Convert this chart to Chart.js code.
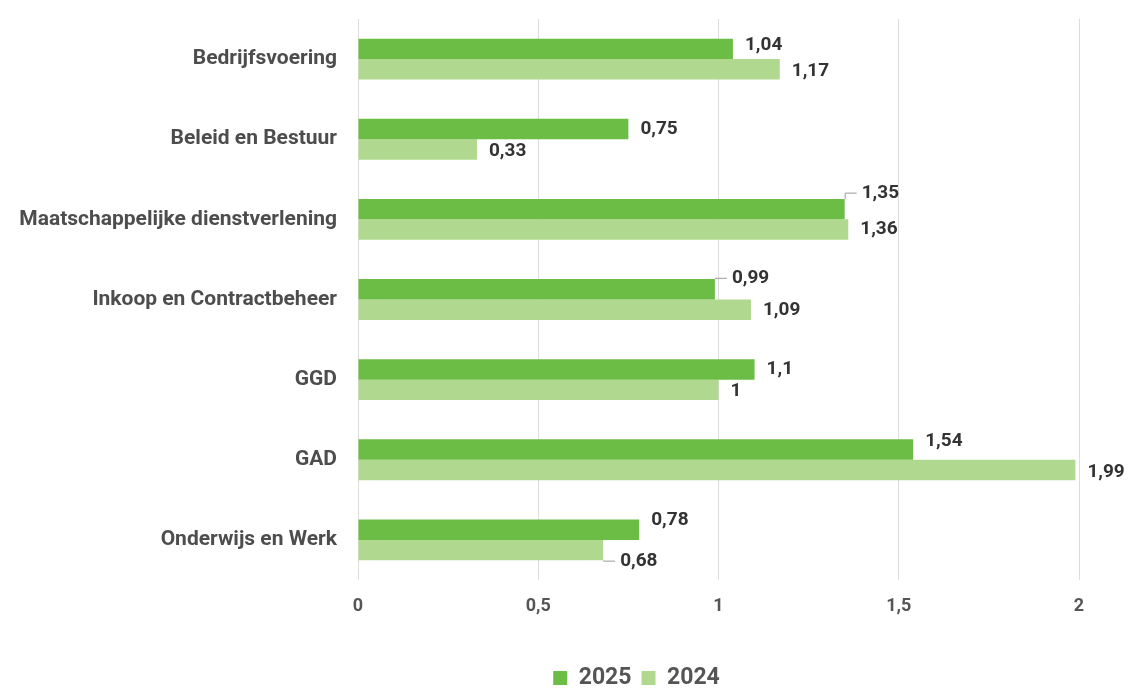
<!DOCTYPE html>
<html>
<head>
<meta charset="utf-8">
<script src="https://cdn.jsdelivr.net/npm/chart.js@4"></script>
<style>
  html, body { margin: 0; padding: 0; background: #fff; overflow: hidden; }
  #wrap { width: 1132px; height: 688px; }
</style>
</head>
<body>
<div id="wrap"><canvas id="chart"></canvas></div>
<script>
const categories = ['Bedrijfsvoering', 'Beleid en Bestuur', 'Maatschappelijke dienstverlening',
  'Inkoop en Contractbeheer', 'GGD', 'GAD', 'Onderwijs en Werk'];
const values2025 = [1.04, 0.75, 1.35, 0.99, 1.1, 1.54, 0.78];
const values2024 = [1.17, 0.33, 1.36, 1.09, 1, 1.99, 0.68];
const xTicks = [0, 0.5, 1, 1.5, 2];

// verschuiving van de waardelabels (px), en welke labels een verbindingslijntje krijgen
const labelShiftY = [[-4, 0, -16, -11, 0, -8, -9], [2, 2, 0, 1, 1, 2, 11]];
const leaderLabels = [[2, 3], [6]];

const fmt = v => String(v).replace('.', ',');

const valueLabels = {
  id: 'valueLabels',
  afterLayout(chart) {
    // legenda iets naar rechts, zoals in het origineel
    chart.legend.left += 97;
    chart.legend.right += 97;
  },
  afterDatasetsDraw(chart) {
    const ctx = chart.ctx;
    ctx.save();
    ctx.font = 'bold 19px Roboto';
    ctx.fillStyle = '#333';
    ctx.textBaseline = 'middle';
    chart.data.datasets.forEach((ds, di) => {
      chart.getDatasetMeta(di).data.forEach((bar, i) => {
        const y = bar.y + labelShiftY[di][i];
        let x = bar.x + 12;
        if (leaderLabels[di].includes(i)) {
          x = bar.x + 17;
          const edge = bar.y + (di === 0 ? -bar.height / 2 : bar.height / 2);
          ctx.strokeStyle = '#999';
          ctx.lineWidth = 1;
          ctx.beginPath();
          ctx.moveTo(bar.x + 0.5, edge);
          ctx.lineTo(bar.x + 0.5, y);
          ctx.lineTo(x - 5, y);
          ctx.stroke();
        }
        ctx.fillText(fmt(ds.data[i]), x, y);
      });
    });
    ctx.restore();
  }
};

new Chart(document.getElementById('chart'), {
  type: 'bar',
  data: {
    labels: categories,
    datasets: [
      { label: '2025', data: values2025, backgroundColor: '#6cbd45' },
      { label: '2024', data: values2024, backgroundColor: '#b0d98f' }
    ]
  },
  options: {
    indexAxis: 'y',
    responsive: true,
    maintainAspectRatio: false,
    animation: false,
    layout: { padding: { top: 19, right: 53, left: 0, bottom: -11.5 } },
    datasets: { bar: { categoryPercentage: 0.51, barPercentage: 1 } },
    scales: {
      x: {
        min: 0, max: 2,
        afterBuildTicks: axis => { axis.ticks = xTicks.map(v => ({ value: v })); },
        afterFit: axis => { axis.height = 76.5; },
        grid: { color: '#dcdcdc', drawTicks: false },
        border: { display: false },
        ticks: {
          padding: 16,
          color: '#555',
          font: { family: 'Roboto', size: 18, weight: 'bold' },
          callback: v => fmt(v)
        }
      },
      y: {
        afterFit: axis => { axis.width = 358; axis.paddingTop = 0; axis.paddingBottom = 0; },
        grid: { display: false, drawTicks: false },
        border: { display: false },
        ticks: {
          padding: 21,
          color: '#4d4d4d',
          font: { family: 'Roboto', size: 21, weight: 'bold' }
        }
      }
    },
    plugins: {
      legend: {
        position: 'bottom',
        labels: {
          boxWidth: 14, boxHeight: 14, padding: 10,
          color: '#555',
          font: { family: 'Roboto', size: 23, weight: 'bold' }
        }
      },
      tooltip: { enabled: false }
    }
  },
  plugins: [valueLabels]
});
</script>
</body>
</html>
